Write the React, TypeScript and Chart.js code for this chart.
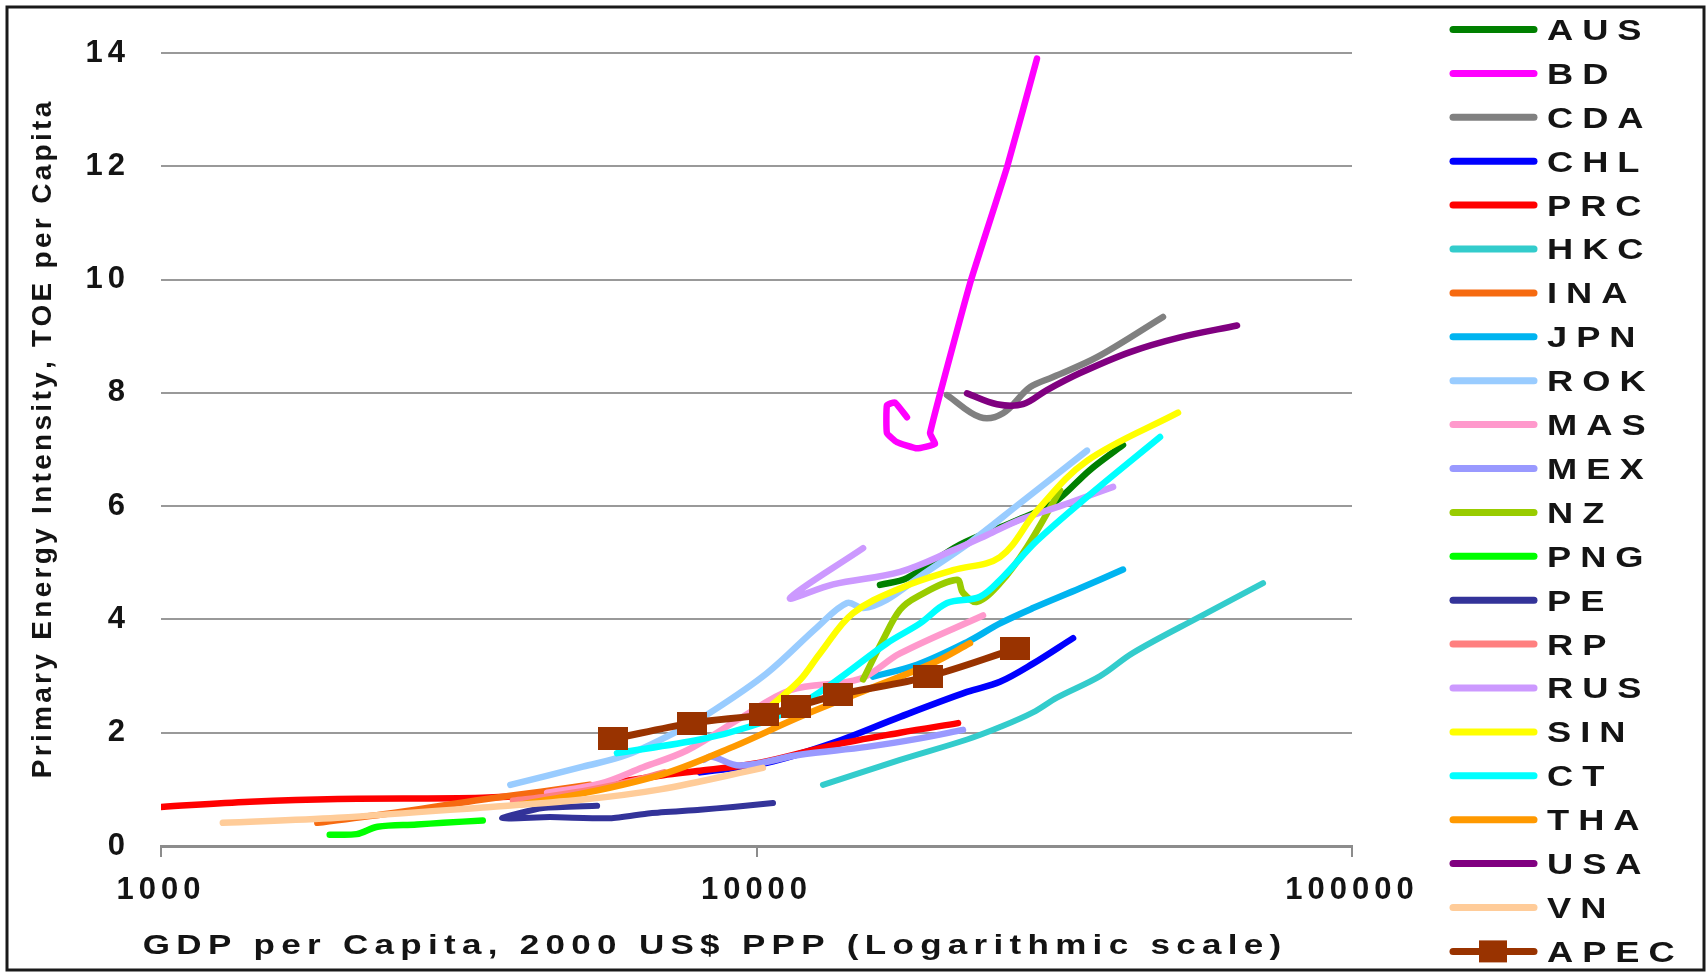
import React, { useEffect, useRef } from "react";
import { Chart, registerables } from "chart.js";

Chart.register(...registerables);

// ---------------- data ----------------
const SERIES_NAMES = ["AUS", "BD", "CDA", "CHL", "PRC", "HKC", "INA", "JPN", "ROK", "MAS", "MEX", "NZ", "PNG", "PE", "RP", "RUS", "SIN", "CT", "THA", "USA", "VN", "APEC"];

const AUS_GDP = [16120, 17890, 21970, 26960, 31480, 36310, 41250];
const AUS_TOE = [4.61, 4.73, 5.32, 5.72, 6.05, 6.64, 7.08];
const BD_GDP = [17890, 17080, 16560, 16560, 17210, 18600, 19940, 19560, 22830, 26340, 29580];
const BD_TOE = [7.57, 7.83, 7.78, 7.29, 7.13, 7.02, 7.1, 7.29, 9.93, 11.98, 13.9];
const CDA_GDP = [20890, 23730, 25940, 28800, 31480, 37310, 48150];
const CDA_TOE = [7.96, 7.57, 7.64, 8.1, 8.28, 8.63, 9.34];
const CHL_GDP = [8040, 10410, 13450, 17420, 22570, 25640, 29130, 34010];
const CHL_TOE = [1.3, 1.47, 1.82, 2.28, 2.72, 2.9, 3.22, 3.67];
const PRC_GDP = [1000, 1410, 1980, 3470, 4350, 5460, 6970, 8040, 10140, 13450, 17420, 21800];
const PRC_TOE = [0.69, 0.78, 0.83, 0.85, 0.92, 1.08, 1.25, 1.33, 1.47, 1.78, 2.0, 2.17];
const HKC_GDP = [12930, 17420, 22570, 25640, 29130, 31960, 37750, 42880, 55560, 70900];
const HKC_TOE = [1.08, 1.52, 1.88, 2.1, 2.36, 2.62, 3.0, 3.41, 4.05, 4.64];
const INA_GDP = [1830, 2520, 3470, 4350, 5250];
const INA_TOE = [0.41, 0.6, 0.82, 0.96, 1.08];
const JPN_GDP = [15690, 18600, 22570, 25640, 29130, 34940, 41250];
const JPN_TOE = [2.99, 3.2, 3.6, 3.93, 4.2, 4.55, 4.88];
const ROK_GDP = [3860, 5110, 6060, 7440, 8350, 10410, 12640, 14190, 15100, 16560, 18820, 22830, 27700, 35890];
const ROK_TOE = [1.08, 1.4, 1.61, 2.05, 2.35, 3.05, 3.86, 4.29, 4.2, 4.35, 4.76, 5.36, 6.05, 6.98];
const MAS_GDP = [4450, 5460, 6450, 7650, 9380, 11390, 14920, 17420, 24010];
const MAS_TOE = [0.94, 1.1, 1.39, 1.69, 2.25, 2.75, 2.95, 3.4, 4.07];
const MEX_GDP = [8160, 8400, 9380, 11830, 15330, 18820, 22220];
const MEX_TOE = [1.52, 1.58, 1.42, 1.61, 1.75, 1.9, 2.05];
const NZ_GDP = [15100, 16310, 17420, 18600, 21710, 22220, 23460, 25640, 28460, 32340];
const NZ_TOE = [2.94, 3.64, 4.17, 4.4, 4.7, 4.47, 4.31, 4.64, 5.28, 6.28];
const PNG_GDP = [1920, 2130, 2310, 2690, 2980, 3470];
const PNG_TOE = [0.2, 0.21, 0.34, 0.38, 0.41, 0.45];
const PE_GDP = [5400, 4380, 3740, 4500, 5680, 6630, 8040, 9130, 10660];
const PE_TOE = [0.71, 0.67, 0.49, 0.51, 0.49, 0.58, 0.64, 0.69, 0.76];
const RP_GDP = [3900, 4500, 5300, 6200, 7000];
const RP_TOE = [0.8, 0.88, 1.0, 1.15, 1.3];
const RUS_GDP = [15100, 11390, 13450, 17420, 21380, 24390, 27700, 32340, 39700];
const RUS_TOE = [5.26, 4.38, 4.62, 4.84, 5.22, 5.49, 5.76, 6.0, 6.34];
const SIN_GDP = [10540, 11830, 12780, 14520, 17620, 21380, 25640, 29580, 35890, 51030];
const SIN_TOE = [2.46, 2.93, 3.4, 4.11, 4.57, 4.87, 5.1, 5.92, 6.8, 7.65];
const CT_GDP = [5830, 8040, 9750, 11390, 13450, 16560, 18820, 20890, 23730, 25940, 29580, 35890, 47600];
const CT_TOE = [1.64, 1.88, 2.11, 2.4, 2.88, 3.58, 3.93, 4.29, 4.4, 4.75, 5.39, 6.16, 7.22];
const THA_GDP = [4010, 5460, 7070, 9130, 11830, 15330, 19790, 22830];
const THA_TOE = [0.73, 0.99, 1.29, 1.75, 2.28, 2.76, 3.23, 3.58];
const USA_GDP = [22570, 25340, 28030, 30740, 34940, 42390, 51420, 64110];
const USA_TOE = [7.99, 7.8, 7.8, 8.05, 8.35, 8.72, 8.98, 9.19];
const VN_GDP = [1270, 1980, 3470, 5110, 6890, 10250];
const VN_TOE = [0.41, 0.5, 0.68, 0.82, 1.0, 1.38];
const APEC_GDP = [5740, 7790, 10290, 11650, 13710, 19410, 27180];
const APEC_TOE = [1.89, 2.17, 2.32, 2.46, 2.67, 2.99, 3.48];

const X_TICKS = [1000, 10000, 100000];
const Y_TICKS = [0, 2, 4, 6, 8, 10, 12, 14];
const X_TITLE = "GDP per Capita, 2000 US$ PPP (Logarithmic scale)";
const Y_TITLE = "Primary Energy Intensity, TOE per Capita";

// ---------------- styles ----------------
const COLORS: Record<string, string> = {
  AUS: "#008000", BD: "#FF00FF", CDA: "#808080", CHL: "#0000FF", PRC: "#FF0000",
  HKC: "#33CCCC", INA: "#F66A10", JPN: "#00B4F0", ROK: "#99CCFF", MAS: "#FF99CC",
  MEX: "#9999FF", NZ: "#99CC00", PNG: "#00FF00", PE: "#333399", RP: "#FF8080",
  RUS: "#CC99FF", SIN: "#FFFF00", CT: "#00FFFF", THA: "#FF9900", USA: "#800080",
  VN: "#FFCC99", APEC: "#993300",
};

const SERIES_DATA: Record<string, [number[], number[]]> = {
  AUS: [AUS_GDP, AUS_TOE], BD: [BD_GDP, BD_TOE], CDA: [CDA_GDP, CDA_TOE], CHL: [CHL_GDP, CHL_TOE],
  PRC: [PRC_GDP, PRC_TOE], HKC: [HKC_GDP, HKC_TOE], INA: [INA_GDP, INA_TOE], JPN: [JPN_GDP, JPN_TOE],
  ROK: [ROK_GDP, ROK_TOE], MAS: [MAS_GDP, MAS_TOE], MEX: [MEX_GDP, MEX_TOE], NZ: [NZ_GDP, NZ_TOE],
  PNG: [PNG_GDP, PNG_TOE], PE: [PE_GDP, PE_TOE], RP: [RP_GDP, RP_TOE], RUS: [RUS_GDP, RUS_TOE],
  SIN: [SIN_GDP, SIN_TOE], CT: [CT_GDP, CT_TOE], THA: [THA_GDP, THA_TOE], USA: [USA_GDP, USA_TOE],
  VN: [VN_GDP, VN_TOE], APEC: [APEC_GDP, APEC_TOE],
};

const W = 1706;
const H = 973;
const FONT_FAMILY = '"Liberation Sans", Arial, sans-serif';
const TEXT_COLOR = "#141414";

function drawSpaced(ctx: CanvasRenderingContext2D, text: string, x: number, y: number, ls: number, sx: number, align: "left" | "center") {
  const chars = Array.from(text);
  const widths = chars.map((c) => ctx.measureText(c).width * sx);
  const total = widths.reduce((a, b) => a + b, 0) + ls * (chars.length - 1);
  let cx = align === "center" ? x - total / 2 : x;
  ctx.textAlign = "left";
  chars.forEach((c, i) => {
    ctx.save();
    ctx.translate(cx, y);
    ctx.scale(sx, 1);
    ctx.fillText(c, 0, 0);
    ctx.restore();
    cx += widths[i] + ls;
  });
}

export default function App() {
  const canvasRef = useRef<HTMLCanvasElement | null>(null);

  useEffect(() => {
    const canvas = canvasRef.current;
    if (!canvas) return;

    const marker = document.createElement("canvas");
    marker.width = 30;
    marker.height = 23;
    const mctx = marker.getContext("2d")!;
    mctx.fillStyle = COLORS.APEC;
    mctx.fillRect(0, 0, 30, 23);

    const datasets = SERIES_NAMES.map((name, i) => {
      const [gdp, toe] = SERIES_DATA[name];
      const isApec = name === "APEC";
      return {
        label: name,
        data: gdp.map((g, k) => ({ x: g, y: toe[k] })),
        borderColor: COLORS[name],
        backgroundColor: COLORS[name],
        borderWidth: isApec ? 7 : name === "PE" || name === "HKC" ? 6 : 6.5,
        tension: name === "BD" ? 0.12 : name === "PE" ? 0.2 : 0.35,
        fill: false,
        pointRadius: isApec ? 14 : 0,
        pointStyle: isApec ? (marker as any) : "circle",
        order: SERIES_NAMES.length - i,
        borderCapStyle: "round" as const,
        borderJoinStyle: "round" as const,
      };
    });

    const decor = {
      id: "decor",
      beforeDraw(chart: any) {
        const ctx = chart.ctx as any;
        ctx.save();
        ctx.fillStyle = "#ffffff";
        ctx.fillRect(0, 0, W, H);
        ctx.restore();
        if ("letterSpacing" in ctx) ctx.letterSpacing = "5px";
      },
      afterDraw(chart: any) {
        const ctx = chart.ctx as CanvasRenderingContext2D;
        if ("letterSpacing" in ctx) (ctx as any).letterSpacing = "0px";
        ctx.save();
        // frame
        ctx.strokeStyle = "#1a1a1a";
        ctx.lineWidth = 3;
        ctx.strokeRect(7, 7, 1697, 963);

        ctx.fillStyle = TEXT_COLOR;
        ctx.textBaseline = "alphabetic";
        // x title
        ctx.font = `bold 28px ${FONT_FAMILY}`;
        drawSpaced(ctx, X_TITLE, 712, 954, 6.3, 1.25, "center");
        // y title
        ctx.save();
        ctx.translate(51, 440);
        ctx.rotate(-Math.PI / 2);
        drawSpaced(ctx, Y_TITLE, 0, 0, 3.3, 1.0, "center");
        ctx.restore();

        // legend
        const y0 = 29.5;
        const dy = 43.9;
        SERIES_NAMES.forEach((name, i) => {
          const y = y0 + i * dy;
          ctx.strokeStyle = COLORS[name];
          ctx.lineWidth = 7;
          ctx.lineCap = "round";
          ctx.beginPath();
          ctx.moveTo(1453, y);
          ctx.lineTo(1534, y);
          ctx.stroke();
          if (name === "APEC") {
            ctx.fillStyle = COLORS.APEC;
            ctx.fillRect(1493 - 14, y - 11, 28, 22);
          }
          ctx.fillStyle = TEXT_COLOR;
          ctx.font = `bold 29px ${FONT_FAMILY}`;
          drawSpaced(ctx, name, 1547, y + 10.4, 9, 1.25, "left");
        });
        ctx.restore();
      },
    };

    const tickFont = { family: FONT_FAMILY, size: 31, weight: "bold" as const };

    const chart = new Chart(canvas, {
      type: "line",
      data: { datasets: datasets as any },
      options: {
        responsive: false,
        animation: false,
        devicePixelRatio: 1,
        events: [],
        layout: { padding: { left: 0, right: W - 1352, top: 53, bottom: 0 } },
        plugins: { legend: { display: false }, tooltip: { enabled: false } },
        scales: {
          x: {
            type: "logarithmic",
            min: X_TICKS[0],
            max: X_TICKS[X_TICKS.length - 1],
            afterBuildTicks: (s: any) => {
              s.ticks = X_TICKS.map((v) => ({ value: v }));
            },
            afterFit: (s: any) => {
              s.height = H - 846;
            },
            ticks: {
              callback: (v: any) => String(v),
              font: tickFont,
              color: TEXT_COLOR,
              padding: 15,
              maxRotation: 0,
              autoSkip: false,
            },
            grid: { drawOnChartArea: false, drawTicks: true, tickLength: 11, color: "#8c8c8c", lineWidth: 2 },
            border: { display: true, color: "#8c8c8c", width: 3 },
          },
          y: {
            type: "linear",
            min: Y_TICKS[0],
            max: Y_TICKS[Y_TICKS.length - 1],
            afterBuildTicks: (s: any) => {
              s.ticks = Y_TICKS.map((v) => ({ value: v }));
            },
            afterFit: (s: any) => {
              s.width = 161;
            },
            ticks: { font: tickFont, color: TEXT_COLOR, padding: 31 },
            grid: { color: "#999999", lineWidth: 2, drawTicks: false },
            border: { display: false },
          },
        },
      },
      plugins: [decor],
    });

    return () => chart.destroy();
  }, []);

  return (
    <div style={{ position: "fixed", left: 0, top: 0, width: W, height: H, background: "#fff" }}>
      <canvas ref={canvasRef} width={W} height={H} style={{ display: "block", width: W, height: H }} />
    </div>
  );
}
